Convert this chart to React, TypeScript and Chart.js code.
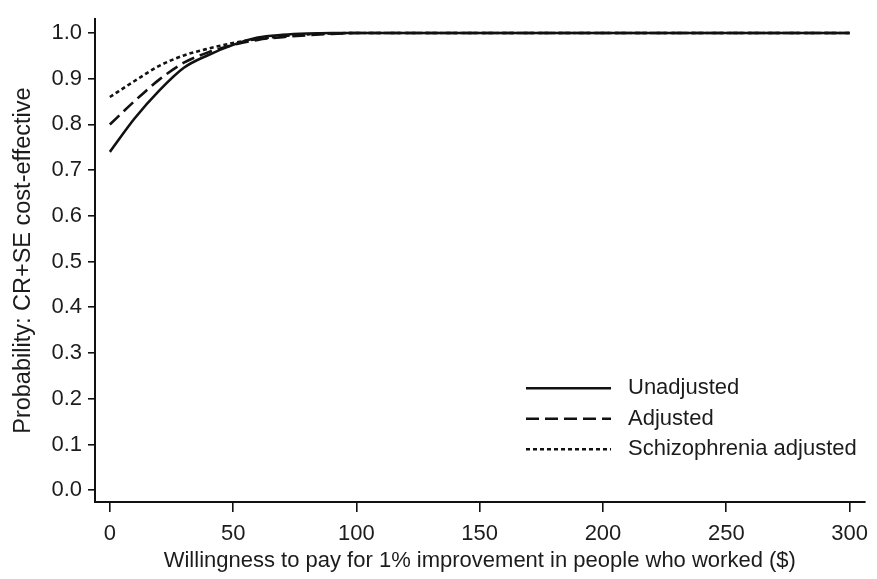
import React, { useEffect, useRef } from "react";
import { Chart, registerables } from "chart.js";

Chart.register(...registerables);

// Willingness to pay ($) for 1% improvement
const wtp = [0, 10, 20, 30, 40, 50, 60, 70, 80, 90, 100, 150, 200, 250, 300];
const unadjusted = [0.74, 0.813, 0.874, 0.924, 0.952, 0.974, 0.99, 0.996, 0.999, 1, 1, 1, 1, 1, 1];
const adjusted = [0.8, 0.851, 0.898, 0.935, 0.958, 0.974, 0.985, 0.991, 0.995, 0.998, 1, 1, 1, 1, 1];
const schizoAdjusted = [0.86, 0.895, 0.928, 0.951, 0.966, 0.978, 0.987, 0.993, 0.997, 0.999, 1, 1, 1, 1, 1];

const xTicks = [0, 50, 100, 150, 200, 250, 300];
const yTicks = [0, 0.1, 0.2, 0.3, 0.4, 0.5, 0.6, 0.7, 0.8, 0.9, 1.0];

const seriesLabels = ["Unadjusted", "Adjusted", "Schizophrenia adjusted"];
const xTitle = "Willingness to pay for 1% improvement in people who worked ($)";
const yTitle = "Probability: CR+SE cost-effective";

const FONT = '"Liberation Sans", Arial, Helvetica, sans-serif';
const INK = "#111";
const TEXT = "#1c1c1c";

const legendPlugin = {
  id: "innerLegend",
  afterDraw(chart: any) {
    const { ctx, chartArea } = chart;
    const x0 = chartArea.left + 431;
    const lineLen = 85;
    const textX = x0 + lineLen + 17;
    const yStart = chartArea.top + 369;
    const rowH = 30.5;
    ctx.save();
    chart.data.datasets.forEach((ds: any, i: number) => {
      const y = yStart + i * rowH;
      ctx.beginPath();
      ctx.strokeStyle = ds.borderColor;
      ctx.lineWidth = ds.borderWidth;
      ctx.setLineDash(ds.borderDash || []);
      ctx.moveTo(x0, y);
      ctx.lineTo(x0 + lineLen, y);
      ctx.stroke();
      ctx.setLineDash([]);
      ctx.fillStyle = TEXT;
      ctx.font = `22px ${FONT}`;
      ctx.textAlign = "left";
      ctx.textBaseline = "middle";
      ctx.fillText(ds.label, textX, y);
    });
    ctx.restore();
  },
};

export default function App() {
  const ref = useRef<HTMLCanvasElement | null>(null);

  useEffect(() => {
    if (!ref.current) return;
    const mk = (v: number[]) => wtp.map((x, i) => ({ x, y: v[i] }));
    const chart = new Chart(ref.current, {
      type: "line",
      data: {
        datasets: [
          {
            label: seriesLabels[0],
            data: mk(unadjusted),
            borderColor: INK,
            borderWidth: 2.6,
            borderDash: [],
            pointRadius: 0,
            cubicInterpolationMode: "monotone",
            fill: false,
          },
          {
            label: seriesLabels[1],
            data: mk(adjusted),
            borderColor: INK,
            borderWidth: 2.6,
            borderDash: [13, 6],
            pointRadius: 0,
            cubicInterpolationMode: "monotone",
            fill: false,
          },
          {
            label: seriesLabels[2],
            data: mk(schizoAdjusted),
            borderColor: INK,
            borderWidth: 2.6,
            borderDash: [4, 3],
            pointRadius: 0,
            cubicInterpolationMode: "monotone",
            fill: false,
          },
        ],
      },
      options: {
        animation: false,
        responsive: false,
        maintainAspectRatio: false,
        layout: { padding: { left: 0, right: 5, top: 12, bottom: 0 } },
        plugins: {
          legend: { display: false },
          tooltip: { enabled: false },
        },
        scales: {
          x: {
            type: "linear",
            min: -6.03,
            max: 306.1,
            afterBuildTicks: (s: any) => {
              s.ticks = xTicks.map((v) => ({ value: v }));
            },
            afterFit: (s: any) => {
              s.height = 77;
            },
            ticks: {
              color: TEXT,
              font: { family: FONT, size: 22 },
              padding: 9,
              maxRotation: 0,
              autoSkip: false,
            },
            grid: {
              drawOnChartArea: false,
              drawTicks: true,
              tickLength: 10,
              color: INK,
              lineWidth: 1.6,
            },
            border: { display: true, color: INK, width: 2 },
            title: {
              display: true,
              text: xTitle,
              color: TEXT,
              font: { family: FONT, size: 22 },
              padding: { top: 0, bottom: 5 },
            },
          },
          y: {
            type: "linear",
            min: -0.0259,
            max: 1.0302,
            afterBuildTicks: (s: any) => {
              s.ticks = yTicks.map((v) => ({ value: v }));
            },
            afterFit: (s: any) => {
              s.width = 95;
            },
            ticks: {
              color: TEXT,
              font: { family: FONT, size: 22 },
              padding: 6,
              callback: (v: any) => Number(v).toFixed(1),
            },
            grid: {
              drawOnChartArea: false,
              drawTicks: true,
              tickLength: 7,
              color: INK,
              lineWidth: 1.6,
            },
            border: { display: true, color: INK, width: 2 },
            title: {
              display: true,
              text: yTitle,
              color: TEXT,
              font: { family: FONT, size: 23.5 },
              padding: { top: 9, bottom: 0 },
            },
          },
        },
      },
      plugins: [legendPlugin],
    } as any);
    return () => chart.destroy();
  }, []);

  return (
    <div style={{ position: "absolute", left: 0, top: 0, width: 877, height: 579, background: "#fff" }}>
      <canvas ref={ref} width={877} height={579} style={{ display: "block" }} />
    </div>
  );
}
